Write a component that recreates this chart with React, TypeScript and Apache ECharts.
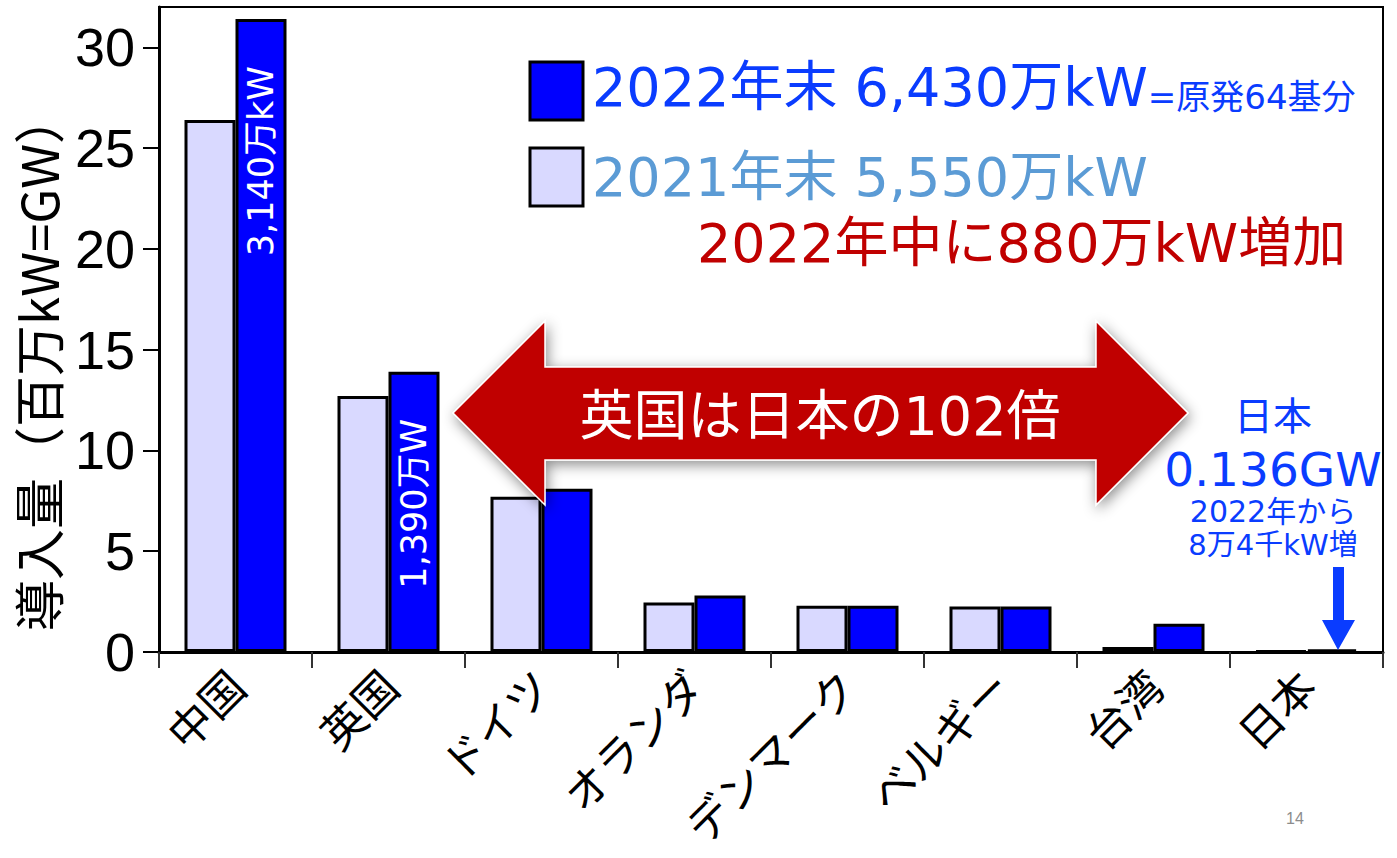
import React, { useEffect, useRef } from 'react';
import * as echarts from 'echarts';

const categories = ['中国', '英国', 'ドイツ', 'オランダ', 'デンマーク', 'ベルギー', '台湾', '日本'];
const values2021 = [26.4, 12.7, 7.7, 2.45, 2.3, 2.26, 0.25, 0.052];
const values2022 = [31.4, 13.9, 8.1, 2.8, 2.3, 2.26, 1.4, 0.136];
const barLabels2022 = ['3,140万kW', '1,390万W', '', '', '', '', '', ''];
const yTickValues = [0, 5, 10, 15, 20, 25, 30];
const yAxisName = '導入量（百万kW=GW）';
const legend2022Main = '2022年末 6,430万kW';
const legend2022Sub = '=原発64基分';
const legend2021 = '2021年末 5,550万kW';
const increaseText = '2022年中に880万kW増加';
const arrowText = '英国は日本の102倍';
const japanLines = ['日本', '0.136GW', '2022年から', '8万4千kW増'];
const pageNumber = '14';

const MIX = "'DejaVu Sans', 'Noto Sans CJK JP', sans-serif";
const CJK = "'Noto Sans CJK JP', sans-serif";
const BLUE_TXT = '#0A3CFF';

export default function App() {
  const ref = useRef<HTMLDivElement>(null);
  useEffect(() => {
    if (!ref.current) return;
    const chart = echarts.init(ref.current, null, { renderer: 'svg' });
    const data2022 = values2022.map((v, i) =>
      barLabels2022[i] ? { value: v, label: { show: true, formatter: barLabels2022[i] } } : v
    );
    chart.setOption({
      animation: false,
      backgroundColor: '#fff',
      grid: {
        left: 159, right: 14, top: 7, bottom: 206,
        show: true, borderColor: '#000', borderWidth: 2, backgroundColor: 'transparent'
      },
      xAxis: {
        type: 'category',
        data: categories,
        axisLine: { show: true, lineStyle: { color: '#000', width: 3 } },
        axisTick: { show: true, length: 16, lineStyle: { color: '#333', width: 2 } },
        axisLabel: {
          interval: 0, rotate: 45, margin: 25, fontSize: 44, color: '#000', fontFamily: CJK
        }
      },
      yAxis: {
        type: 'value',
        min: 0, max: 32, interval: 5,
        splitLine: { show: false },
        axisLine: { show: true, lineStyle: { color: '#000', width: 3 } },
        axisTick: { show: true, length: 16, customValues: yTickValues, lineStyle: { color: '#000', width: 2 } },
        axisLabel: {
          customValues: yTickValues, margin: 24, fontSize: 54, color: '#000',
          fontFamily: "'Liberation Sans', Arial, sans-serif"
        }
      },
      series: [
        {
          name: '2021年末', type: 'bar', data: values2021, barWidth: 51, barGap: '0%',
          itemStyle: { color: '#D9D9FF', borderColor: '#000', borderWidth: 3 }
        },
        {
          name: '2022年末', type: 'bar', data: data2022, barWidth: 51, barGap: '0%',
          itemStyle: { color: '#0000FF', borderColor: '#000', borderWidth: 3 },
          label: {
            show: false, position: 'insideTop', rotate: 90, align: 'right', verticalAlign: 'middle',
            distance: 47, color: '#fff', fontSize: 35, fontFamily: MIX
          }
        }
      ],
      graphic: [
        {
          type: 'text', x: 37, y: 362, rotation: Math.PI / 2, z: 100,
          style: { text: yAxisName, fontSize: 51, fontFamily: CJK, fill: '#000', align: 'center', verticalAlign: 'middle' }
        },
        { type: 'rect', z: 100, shape: { x: 530, y: 62, width: 53, height: 58 }, style: { fill: '#0000FF', stroke: '#000', lineWidth: 3 } },
        { type: 'rect', z: 100, shape: { x: 530, y: 148, width: 53, height: 58 }, style: { fill: '#D9D9FF', stroke: '#000', lineWidth: 3 } },
        {
          type: 'text', x: 592, y: 114, z: 100,
          style: {
            text: `{a|${legend2022Main}}{b|${legend2022Sub}}`, align: 'left', verticalAlign: 'bottom',
            rich: {
              a: { fontSize: 54, fontFamily: MIX, fill: BLUE_TXT, verticalAlign: 'bottom' },
              b: { fontSize: 34, fontFamily: MIX, fill: BLUE_TXT, verticalAlign: 'bottom' }
            }
          }
        },
        {
          type: 'text', x: 592, y: 177, z: 100,
          style: { text: legend2021, fontSize: 54, fontFamily: MIX, fill: '#5B9BD5', align: 'left', verticalAlign: 'middle' }
        },
        {
          type: 'text', x: 697, y: 243, z: 100,
          style: { text: increaseText, fontSize: 54, fontFamily: MIX, fill: '#C00000', align: 'left', verticalAlign: 'middle' }
        },
        {
          type: 'polygon', z: 100,
          shape: { points: [[453, 413], [545, 321], [545, 367], [1096, 367], [1096, 321], [1188, 413], [1096, 505], [1096, 460], [545, 460], [545, 505]] },
          style: { fill: '#C00000', stroke: '#ffffff', lineWidth: 1.5, shadowBlur: 14, shadowColor: 'rgba(0,0,0,0.45)', shadowOffsetX: 2, shadowOffsetY: 4 }
        },
        {
          type: 'text', x: 820, y: 416, z: 101,
          style: { text: arrowText, fontSize: 54, fontFamily: MIX, fill: '#fff', align: 'center', verticalAlign: 'middle' }
        },
        {
          type: 'text', x: 1273, y: 413, z: 100,
          style: { text: japanLines[0], fontSize: 39, fontFamily: CJK, fill: BLUE_TXT, align: 'center', verticalAlign: 'middle' }
        },
        {
          type: 'text', x: 1273, y: 469, z: 100,
          style: { text: japanLines[1], fontSize: 47, fontFamily: MIX, fill: BLUE_TXT, align: 'center', verticalAlign: 'middle' }
        },
        {
          type: 'text', x: 1273, y: 511, z: 100,
          style: { text: japanLines[2], fontSize: 30, fontFamily: MIX, fill: BLUE_TXT, align: 'center', verticalAlign: 'middle' }
        },
        {
          type: 'text', x: 1273, y: 545, z: 100,
          style: { text: japanLines[3], fontSize: 29, fontFamily: MIX, fill: BLUE_TXT, align: 'center', verticalAlign: 'middle' }
        },
        {
          type: 'polygon', z: 100,
          shape: { points: [[1333, 567], [1344, 567], [1344, 620], [1355, 620], [1338, 650], [1322, 620], [1333, 620]] },
          style: { fill: BLUE_TXT }
        },
        {
          type: 'text', x: 1295, y: 818, z: 100,
          style: { text: pageNumber, fontSize: 16, fontFamily: "'Liberation Sans', sans-serif", fill: '#8c8c8c', align: 'center', verticalAlign: 'middle' }
        }
      ]
    });
    return () => chart.dispose();
  }, []);
  return <div ref={ref} style={{ position: 'fixed', left: 0, top: 0, width: 1397, height: 858 }} />;
}
